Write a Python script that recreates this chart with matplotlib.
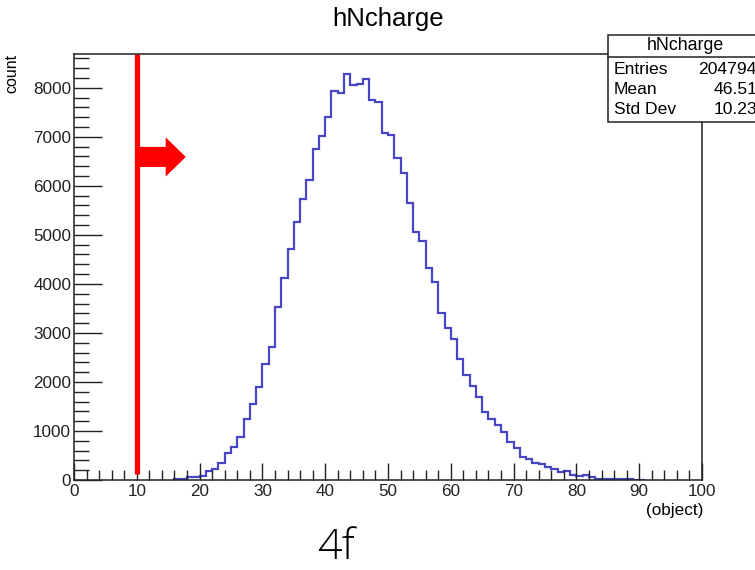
import matplotlib
matplotlib.use("Agg")
import matplotlib.pyplot as plt
import numpy as np
from matplotlib.patches import FancyArrow, Rectangle
from matplotlib.ticker import MultipleLocator

plt.rcParams["font.family"] = ["Liberation Sans", "DejaVu Sans"]

# histogram contents, bins of width 1 starting at these left edges
bin_start = 16
counts = [
    20, 20, 60, 68, 82, 177, 218, 340, 544, 680,            # 16-25
    884, 1252, 1551, 1891, 2367, 2721, 3524, 4116, 4721, 5272,  # 26-35
    5728, 6122, 6762, 7014, 7408, 7939, 7891, 8279, 8054, 8082,  # 36-45
    8184, 7755, 7707, 7075, 7041, 6565, 6259, 5646, 5068, 4884,  # 46-55
    4320, 4048, 3401, 3095, 2878, 2469, 2143, 1918, 1701, 1388,  # 56-65
    1252, 1116, 973, 782, 646, 476, 422, 340, 327, 272,     # 66-75
    224, 163, 184, 102, 82, 102, 61, 20, 30, 30,            # 76-85
    20, 20, 20, 10, 10,                                      # 86-90
]
cut_value = 10
arrow_y = 6590

stats_title = "hNcharge"
stats_names = ["Entries", "Mean", "Std Dev"]
stats_values = ["204794", "46.51", "10.23"]

edges = np.arange(bin_start, bin_start + len(counts) + 1)

fig = plt.figure(figsize=(7.55, 5.7), dpi=100)
W, H = 755, 570
ax = fig.add_axes([74 / W, 1 - 480 / H, (702 - 74) / W, (480 - 54) / H])

ax.stairs(counts, edges, color="#4747c6", lw=1.6)

ax.set_xlim(0, 100)
ax.set_ylim(0, 8690)
ax.xaxis.set_major_locator(MultipleLocator(10))
ax.xaxis.set_minor_locator(MultipleLocator(2))
ax.yaxis.set_major_locator(MultipleLocator(1000))
ax.yaxis.set_minor_locator(MultipleLocator(200))
ax.tick_params(axis="both", which="both", direction="in", top=False, right=False,
               labelsize=12.3, colors="#222222", width=1.0)
ax.tick_params(axis="x", which="major", length=12.5, pad=3)
ax.tick_params(axis="x", which="minor", length=7)
ax.tick_params(axis="y", which="major", length=20, pad=2)
ax.tick_params(axis="y", which="minor", length=11)
for s in ax.spines.values():
    s.set_linewidth(1.1)
    s.set_color("#222222")

# cut line and arrow
ax.plot([cut_value, cut_value], [122, 8690], color="red", lw=3.8,
        solid_capstyle="butt", clip_on=False)
ax.add_patch(FancyArrow(cut_value, arrow_y, 7.8, 0, width=410, head_width=800,
                        head_length=3.2, length_includes_head=True,
                        color="red", lw=0))

fig.text(388 / W, 1 - 19 / H, "hNcharge", ha="center", va="center", fontsize=18.5)
fig.text(703 / W, 1 - 510 / H, "(object)", ha="right", va="center", fontsize=12.3)
fig.text(12 / W, 1 - 54 / H, "count", ha="center", va="top", rotation=90, fontsize=11.5)

# stats box (runs off the right edge)
bx0, by0, bx1, by1 = 608, 35, 765, 122
fig.patches.append(Rectangle((bx0 / W, 1 - by1 / H), (bx1 - bx0) / W, (by1 - by0) / H,
                             transform=fig.transFigure, facecolor="white",
                             edgecolor="#222222", lw=1.1, zorder=5))
fig.add_artist(plt.Line2D([bx0 / W, bx1 / W], [1 - 57 / H, 1 - 57 / H],
                          transform=fig.transFigure, color="#222222", lw=1.1, zorder=6))
fig.text(685 / W, 1 - 46 / H, stats_title, ha="center", va="center", fontsize=12.8, zorder=7)
for i, (n, v) in enumerate(zip(stats_names, stats_values)):
    yy = 1 - (69 + i * 20) / H
    fig.text(614 / W, yy, n, ha="left", va="center", fontsize=12.6, zorder=7)
    fig.text(757 / W, yy, v, ha="right", va="center", fontsize=12.6, zorder=7)

fig.text(336 / W, 1 - 548 / H, "4f", ha="center", va="center", fontsize=31,
         family=["Open Sans", "DejaVu Sans"], fontweight="light")

fig.savefig("out.png", dpi=100)
